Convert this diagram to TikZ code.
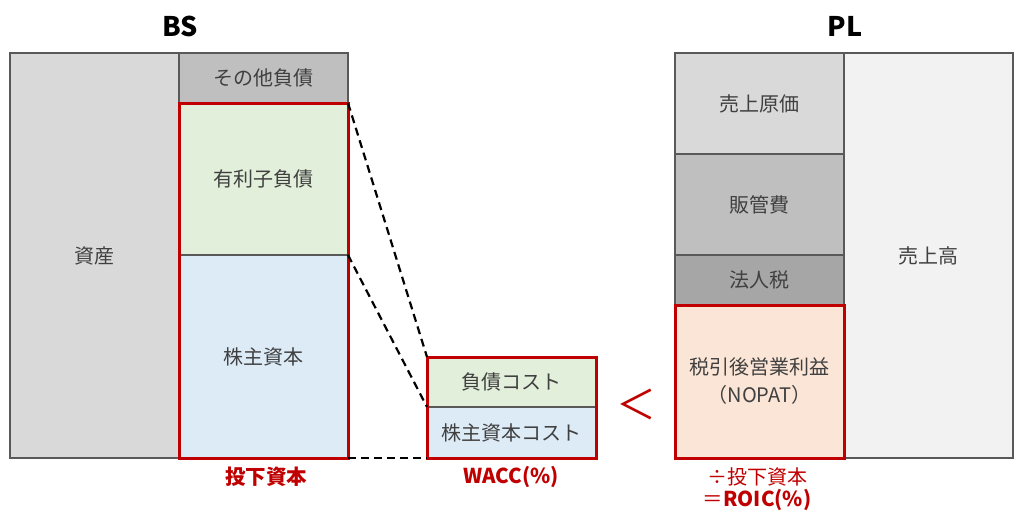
\documentclass[tikz,border=0pt]{standalone}
\usepackage{fontspec}
\setmainfont{Noto Sans CJK JP}
\definecolor{boxgray}{HTML}{595959}
\definecolor{txtgray}{HTML}{404040}
\definecolor{accred}{HTML}{C00000}
\definecolor{assetfill}{HTML}{D9D9D9}
\definecolor{midfill}{HTML}{BFBFBF}
\definecolor{darkfill}{HTML}{A6A6A6}
\definecolor{salesfill}{HTML}{F2F2F2}
\definecolor{debtfill}{HTML}{E2EFDA}
\definecolor{eqfill}{HTML}{DDEBF7}
\definecolor{nopatfill}{HTML}{FBE5D6}

\begin{document}
\begin{tikzpicture}[x=1pt,y=-1pt,
  cell/.style={draw=boxgray, line width=1.3pt, anchor=north west, outer sep=0pt,
    inner sep=0pt, minimum width=169pt, text=txtgray, align=center,
    font=\fontsize{20}{28}\selectfont},
  redframe/.style={draw=accred, line width=3pt},
  linkline/.style={line width=2.2pt, dash pattern=on 8pt off 5pt},
  title/.style={font=\fontsize{27}{30}\selectfont\bfseries},
  redlabel/.style={text=accred, font=\fontsize{20.5}{22}\selectfont\bfseries}]
  \useasboundingbox (0,0) rectangle (1024,525);

  % BS
  \node[title] (bs) at (180,26) {BS};
  \node[cell, fill=assetfill, minimum height=405pt] (asset) at (10,53) {資産};
  \node[cell, fill=midfill, minimum height=50pt] (other) at (179,53) {その他負債};
  \node[cell, fill=debtfill, minimum height=152pt] (debt) at (179,103) {有利子負債};
  \node[cell, fill=eqfill, minimum height=203pt] (equity) at (179,255) {株主資本};
  \draw[redframe] (debt.north west) rectangle (equity.south east);
  \node[redlabel] (ic) at (266,477) {投下資本};

  % WACC
  \node[cell, fill=debtfill, minimum height=50pt] (dcost) at (427,357) {負債コスト};
  \node[cell, fill=eqfill, minimum height=51pt] (ecost) at (427,407) {株主資本コスト};
  \draw[redframe] (dcost.north west) rectangle (ecost.south east);
  \node[redlabel] (wacc) at (511,477) {WACC(\%)};

  % 点線
  \draw[linkline] (debt.north east) -- (dcost.north west);
  \draw[linkline] (equity.north east) -- (ecost.north west);
  \draw[linkline] (equity.south east) -- (ecost.south west);

  \node[text=accred, font=\fontsize{40}{40}\selectfont] (lt) at (636,404) {＜};

  % PL
  \node[title] (pl) at (845,26) {PL};
  \node[cell, fill=salesfill, minimum height=405pt] (sales) at (844,53) {売上高};
  \node[cell, fill=assetfill, minimum height=101pt] (cogs) at (675,53) {売上原価};
  \node[cell, fill=midfill, minimum height=101pt] (sga) at (675,154) {販管費};
  \node[cell, fill=darkfill, minimum height=50pt] (tax) at (675,255) {法人税};
  \node[cell, fill=nopatfill, minimum height=153pt] (nopat) at (675,305) {税引後営業利益\\（NOPAT）};
  \draw[redframe] (nopat.north west) rectangle (nopat.south east);
  \node[redlabel, font=\fontsize{20}{22}\selectfont] (div) at (757,477) {÷投下資本};
  \node[redlabel] (roic) at (757,500) {{\mdseries ＝}ROIC(\%)};
\end{tikzpicture}
\end{document}
